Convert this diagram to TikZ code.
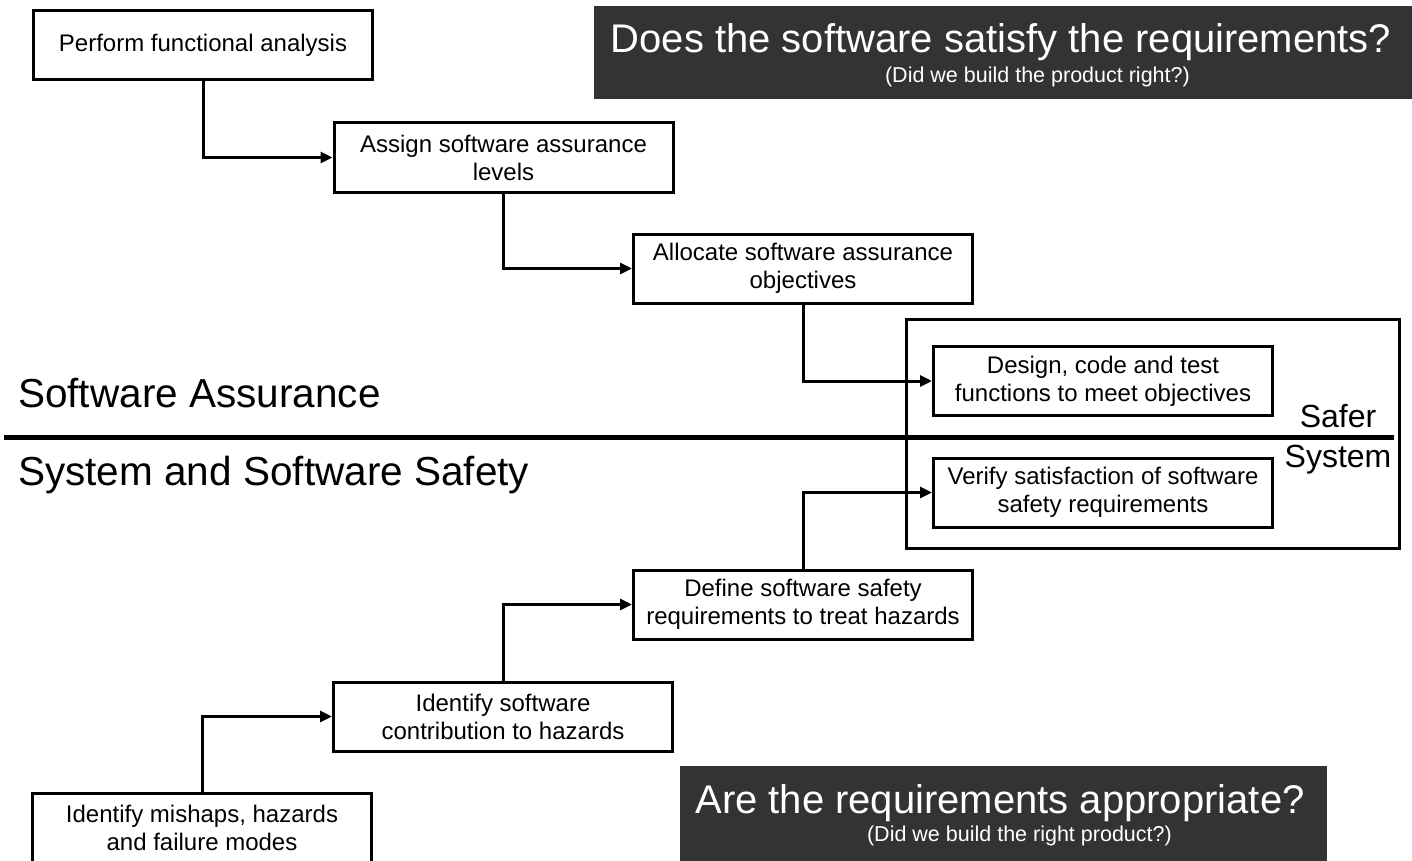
\documentclass[tikz,border=0pt]{standalone}
\usepackage{fontspec}
\setmainfont{Liberation Sans}
\usetikzlibrary{arrows.meta}
\definecolor{darkbg}{HTML}{333333}
\tikzset{
  box/.style={draw, line width=3pt, minimum width=339pt, minimum height=69pt, inner sep=0pt, align=center, font=\fontsize{24}{28}\selectfont},
  conn/.style={line width=3pt, -{Triangle[length=12pt,width=11pt]}},
  bigtitle/.style={text=white, inner sep=0pt, font=\fontsize{40}{44}\selectfont},
  subtitle/.style={text=white, inner sep=0pt, font=\fontsize{21.5}{24}\selectfont},
  section/.style={inner sep=0pt, font=\fontsize{40.5}{44}\selectfont},
  safer/.style={inner sep=0pt, font=\fontsize{32}{36}\selectfont}
}
\begin{document}
\begin{tikzpicture}[x=1pt,y=-1pt]
\useasboundingbox (0,0) rectangle (1412,861);
% dark question panels
\node[fill=darkbg, minimum width=818pt, minimum height=93pt, inner sep=0pt] (q1) at (1003,52.5) {};
\node[fill=darkbg, minimum width=647pt, minimum height=110pt, inner sep=0pt] (q2) at (1003.5,821) {};
\node[bigtitle, anchor=base] (q1t) at (1001,53) {Does the software satisfy the requirements?};
\node[subtitle, anchor=base east] (q1s) at (1190,83) {(Did we build the product right?)};
\node[bigtitle, anchor=base] (q2t) at (1000,813) {Are the requirements appropriate?};
\node[subtitle, anchor=base east] (q2s) at (1172,841) {(Did we build the right product?)};
% safer system frame
\node[draw, line width=3pt, minimum width=493pt, minimum height=229pt, inner sep=0pt] (frame) at (1153,434) {};
\node[safer, anchor=base] (safer) at (1338,427) {Safer};
\node[safer, anchor=base] (system) at (1338,467) {System};
% divider
\coordinate (dl) at (4,437.5);
\coordinate (dr) at (1394,437.5);
\draw[line width=5pt] (dl) -- (dr);
\node[section, anchor=base west] (sa) at (18,407) {Software Assurance};
\node[section, anchor=base west] (ss) at (18,485) {System and Software Safety};
% boxes
\node[box] (b1) at (203,45.5) {Perform functional analysis};
\node[box] (b2) at (503.5,157.5) {Assign software assurance\\levels};
\node[box] (b3) at (803,268.5) {Allocate software assurance\\objectives};
\node[box] (b5) at (1103,381) {Design, code and test\\functions to meet objectives};
\node[box] (b6) at (1103,492.5) {Verify satisfaction of software\\safety requirements};
\node[box] (b7) at (803,604.5) {Define software safety\\requirements to treat hazards};
\node[box] (b8) at (503,716.5) {Identify software\\contribution to hazards};
\node[box] (b9) at (202,828) {Identify mishaps, hazards\\and failure modes};
% connectors
\draw[conn] (b1.south) |- (b2.west);
\draw[conn] (b2.south) |- (b3.west);
\draw[conn] (b3.south) |- (b5.west);
\draw[conn] (b9.north) |- (b8.west);
\draw[conn] (b8.north) |- (b7.west);
\draw[conn] (b7.north) |- (b6.west);
\end{tikzpicture}
\end{document}
